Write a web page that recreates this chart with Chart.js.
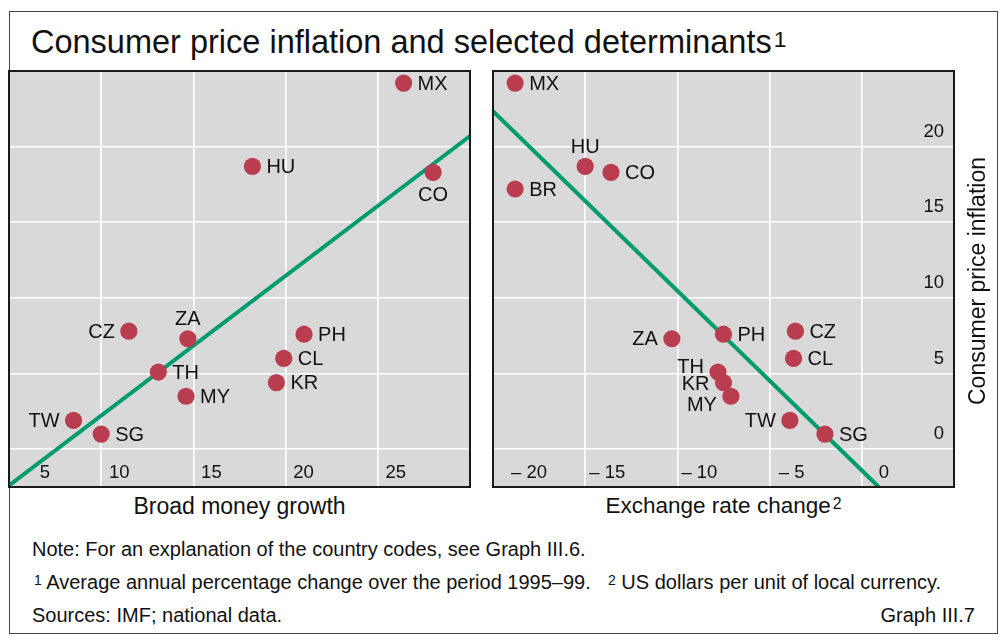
<!DOCTYPE html>
<html>
<head>
<meta charset="utf-8">
<script src="https://cdn.jsdelivr.net/npm/chart.js@4.4.1/dist/chart.umd.min.js"></script>
<style>
    body { margin: 0; background: #fff; font-family: "Liberation Sans", Arial, sans-serif; color: #111; }
    .page { position: relative; width: 1005px; height: 642px; overflow: hidden; }
    .frame { position: absolute; left: 9px; top: 11px; width: 989px; height: 623px; border: 1.5px solid #444; box-sizing: border-box; }
    .box { position: absolute; border: 2px solid #1a1a1a; box-sizing: border-box; pointer-events: none; }
    .txt { position: absolute; white-space: nowrap; }
    sup { font-size: 70%; vertical-align: top; position: relative; top: -0.15em; margin-left: 2px; }
    canvas { position: absolute; }
</style>
</head>
<body>
<div class="page">
    <div class="frame"></div>
    <div class="txt" style="left:31px; top:26px; font-size:32.5px; line-height:32.5px;">Consumer price inflation and selected determinants<sup>1</sup></div>

    <canvas id="money-chart" width="461" height="416" style="left:9px; top:71px;"></canvas>
    <canvas id="fx-chart" width="461" height="416" style="left:493px; top:71px;"></canvas>
    <div class="box" style="left:8px; top:70px; width:463px; height:418px;"></div>
    <div class="box" style="left:492px; top:70px; width:463px; height:418px;"></div>

    <div class="txt" style="left:977px; top:281px; font-size:23px; line-height:23px; transform: translate(-50%, -50%) rotate(-90deg);">Consumer price inflation</div>

    <div class="txt" style="left:9px; width:461px; text-align:center; top:495px; font-size:23px; line-height:23px;">Broad money growth</div>
    <div class="txt" style="left:493px; width:461px; text-align:center; top:495px; font-size:22.5px; line-height:22.5px;">Exchange rate change<sup>2</sup></div>

    <div class="txt" style="left:32px; top:539px; font-size:20px; line-height:20px;">Note: For an explanation of the country codes, see Graph III.6.</div>
    <div class="txt" style="left:32px; top:572px; font-size:20px; line-height:20px;"><sup>1</sup> Average annual percentage change over the period 1995–99.</div>
    <div class="txt" style="left:606px; top:572px; font-size:20px; line-height:20px;"><sup>2</sup> US dollars per unit of local currency.</div>
    <div class="txt" style="left:32px; top:605px; font-size:20px; line-height:20px;">Sources: IMF; national data.</div>
    <div class="txt" style="right:30px; top:605px; font-size:20px; line-height:20px;">Graph III.7</div>
</div>

<script>
// data - left panel (broad money growth vs CPI inflation, % per year 1995-99)
const moneyCodes = ["MX", "HU", "CO", "CZ", "ZA", "PH", "CL", "KR", "TH", "MY", "TW", "SG"];
const moneyGrowth = [26.4, 18.2, 28.0, 11.5, 14.7, 21.0, 19.9, 19.5, 13.1, 14.6, 8.5, 10.0];
const moneyInflation = [24.2, 18.7, 18.3, 7.8, 7.3, 7.6, 6.0, 4.4, 5.1, 3.5, 1.9, 1.0];
const moneyFitX = [5, 30];
const moneyFitY = [-2.4, 20.7];

// data - right panel (exchange rate change vs CPI inflation)
const fxCodes = ["MX", "HU", "CO", "BR", "ZA", "PH", "CZ", "CL", "TH", "KR", "MY", "TW", "SG"];
const fxChange = [-18.8, -15.0, -13.6, -18.8, -10.3, -7.5, -3.6, -3.7, -7.8, -7.5, -7.1, -3.9, -2.0];
const fxInflation = [24.2, 18.7, 18.3, 17.2, 7.3, 7.6, 7.8, 6.0, 5.1, 4.4, 3.5, 1.9, 1.0];
const fxFitX = [-20, 0.92];
const fxFitY = [22.35, -2.5];

// ticks
const moneyTicks = [5, 10, 15, 20, 25];
const moneyTickLabels = ["5", "10", "15", "20", "25"];
const fxTicks = [-20, -15, -10, -5, 0];
const fxTickLabels = ["– 20", "– 15", "– 10", "– 5", "0"];
const inflationTicks = [0, 5, 10, 15, 20];
const inflationTickLabels = ["0", "5", "10", "15", "20"];

// label placement (side, vertical nudge)
const moneyPlaces = [["r", 0], ["r", 0], ["b", 0], ["l", 0], ["t", 0], ["r", 0], ["r", 0], ["r", 0], ["r", 0], ["r", 0], ["l", 0], ["r", 0]];
const fxPlaces = [["r", 0], ["t", 0], ["r", 0], ["r", 0], ["l", 0], ["r", 0], ["r", 0], ["r", 0], ["l", -6], ["l", 1], ["l", 8], ["l", 0], ["r", 0]];

const FONT = '"Liberation Sans", Arial, sans-serif';
const DOT = "#b93d4e";
const FIT = "#009b6f";

const panelPlugin = {
    id: "panel",
    afterDatasetsDraw(chart, args, opts) {
        const { ctx, chartArea: a } = chart;
        const meta = chart.getDatasetMeta(1);
        ctx.save();
        ctx.fillStyle = "#111";

        // point labels
        ctx.font = "20px " + FONT;
        ctx.textBaseline = "middle";
        meta.data.forEach((pt, i) => {
            const [side, dy] = opts.places[i];
            const code = opts.codes[i];
            let x = pt.x, y = pt.y + 1 + dy;
            if (side === "r") { ctx.textAlign = "left"; x += 14; }
            if (side === "l") { ctx.textAlign = "right"; x -= 14; }
            if (side === "t") { ctx.textAlign = "center"; y -= 20; }
            if (side === "b") { ctx.textAlign = "center"; y += 22; }
            ctx.fillText(code, x, y);
        });

        // x tick labels inside plot
        const xs = chart.scales.x;
        ctx.font = "18.5px " + FONT;
        ctx.textAlign = "center";
        opts.xTicks.forEach((v, i) => {
            const px = Math.max(xs.getPixelForValue(v) + opts.xShift, a.left + 36);
            ctx.fillText(opts.xLabels[i], px, a.bottom - 14);
        });

        // y tick labels (right panel only)
        if (opts.yLabels) {
            const ys = chart.scales.y;
            ctx.textAlign = "right";
            inflationTicks.forEach((v, i) => {
                ctx.fillText(opts.yLabels[i], a.right - 10, ys.getPixelForValue(v) - 15);
            });
        }
        ctx.restore();
    },
};

const bgPlugin = {
    id: "bg",
    beforeDraw(chart) {
        const { ctx, chartArea: a } = chart;
        ctx.save();
        ctx.fillStyle = "#d9d9d9";
        ctx.fillRect(a.left, a.top, a.right - a.left, a.bottom - a.top);
        ctx.restore();
    },
};

function makePanel(id, xs, ys, codes, fitX, fitY, xMin, xMax, xTicks, panelOpts) {
    const ctx = document.getElementById(id).getContext("2d");
    return new Chart(ctx, {
        type: "scatter",
        data: {
            datasets: [
                {
                    type: "line",
                    data: fitX.map((x, i) => ({ x, y: fitY[i] })),
                    borderColor: FIT,
                    borderWidth: 4,
                    pointRadius: 0,
                    order: 2,
                },
                {
                    data: xs.map((x, i) => ({ x, y: ys[i] })),
                    backgroundColor: DOT,
                    borderWidth: 0,
                    pointRadius: 8.6,
                    order: 1,
                },
            ],
        },
        options: {
            responsive: false,
            animation: false,
            layout: { padding: 0, autoPadding: false },
            plugins: {
                legend: { display: false },
                tooltip: { enabled: false },
                panel: { codes, ...panelOpts },
            },
            scales: {
                x: {
                    type: "linear",
                    min: xMin,
                    max: xMax,
                    afterBuildTicks: (s) => { s.ticks = xTicks.map((v) => ({ value: v })); },
                    ticks: { display: false },
                    grid: { color: "#ffffff", lineWidth: 1.6, drawTicks: false },
                    border: { display: false },
                },
                y: {
                    type: "linear",
                    min: -2.5,
                    max: 25,
                    afterBuildTicks: (s) => { s.ticks = inflationTicks.map((v) => ({ value: v })); },
                    ticks: { display: false },
                    grid: { color: "#ffffff", lineWidth: 1.6, drawTicks: false },
                    border: { display: false },
                },
            },
        },
        plugins: [bgPlugin, panelPlugin],
    });
}

makePanel("money-chart", moneyGrowth, moneyInflation, moneyCodes, moneyFitX, moneyFitY, 5, 30, moneyTicks, {
    places: moneyPlaces, xTicks: moneyTicks, xLabels: moneyTickLabels, xShift: 18,
});
makePanel("fx-chart", fxChange, fxInflation, fxCodes, fxFitX, fxFitY, -20, 5, fxTicks, {
    places: fxPlaces, xTicks: fxTicks, xLabels: fxTickLabels, xShift: 22, yLabels: inflationTickLabels,
});
</script>
</body>
</html>
